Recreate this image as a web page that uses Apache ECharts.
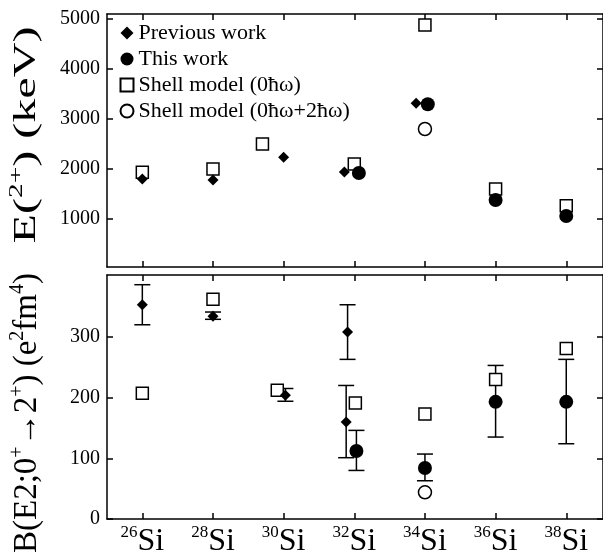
<!DOCTYPE html>
<html>
<head>
<meta charset="utf-8">
<script src="https://cdn.jsdelivr.net/npm/echarts@6/dist/echarts.min.js"></script>
<style>html,body{margin:0;padding:0;background:#fff;}#c{width:603px;height:558px;}</style>
</head>
<body>
<div id="c"></div>
<script>
// ---- data ----
const isotopes = [26, 28, 30, 32, 34, 36, 38];
const ticksE = [1000, 2000, 3000, 4000, 5000];
const ticksB = [0, 100, 200, 300];
const seriesNames = ['Previous work', 'This work', 'Shell model (0ħω)', 'Shell model (0ħω+2ħω)'];

// E(2+) in keV (x = mass number as plotted)
const prevE_A = [26, 28, 30, 31.72, 33.75];
const prevE = [1800, 1780, 2235, 1940, 3315];
const thisE_A = [32.13, 34.08, 36, 38];
const thisE = [1920, 3295, 1380, 1060];
const shell0E_A = [26, 28, 29.4, 32, 34, 36, 38];
const shell0E = [1935, 2000, 2500, 2100, 4880, 1600, 1265];
const shell02E_A = [34];
const shell02E = [2800];

// B(E2;0+ -> 2+) in e2fm4
const prevB_A = [26, 28, 30.05, 31.81, 31.77];
const prevB = [353, 334, 204, 308, 160];
const prevB_lo = [320, 329, 194, 263, 101];
const prevB_hi = [386, 341, 215, 353, 220];
const thisB_A = [32.06, 34, 36, 38];
const thisB = [112, 84, 193, 193];
const thisB_lo = [80, 63, 135, 124];
const thisB_hi = [146, 107, 253, 263];
const shell0B_A = [26, 28, 29.82, 32.03, 34, 36, 38];
const shell0B = [207, 362, 212, 191, 173, 230, 281];
const shell02B_A = [34];
const shell02B = [44];

// ---- chart ----
const FONT = 'Liberation Serif';
const zip = (a, b) => a.map((v, i) => [v, b[i]]);
const zip3 = (a, b, c) => a.map((v, i) => [v, b[i], c[i]]);

const lineStyle = { color: '#000', width: 1.5 };
function xAx(grid, pos, labels) {
  return {
    type: 'value', gridIndex: grid, position: pos, min: 25, max: 39.04,
    axisLine: { show: true, onZero: false, lineStyle },
    axisTick: { show: true, inside: true, length: 6, lineStyle, customValues: isotopes },
    splitLine: { show: false },
    axisLabel: labels ? {
      show: true, customValues: isotopes, margin: 5,
      formatter: v => '{s|' + v + '}{m|Si}',
      rich: {
        s: { fontFamily: FONT, fontSize: 17, color: '#000', verticalAlign: 'top', lineHeight: 16 },
        m: { fontFamily: FONT, fontSize: 32, color: '#000', lineHeight: 36 }
      }
    } : { show: false }
  };
}
function yAx(grid, pos, min, max, ticks, labels) {
  return {
    type: 'value', gridIndex: grid, position: pos, min, max,
    axisLine: { show: true, onZero: false, lineStyle },
    axisTick: { show: true, inside: true, length: 6, lineStyle, customValues: ticks },
    splitLine: { show: false },
    axisLabel: labels ? {
      show: true, customValues: ticks, margin: 7, fontFamily: FONT, fontSize: 20, color: '#000',
      formatter: v => String(v)
    } : { show: false }
  };
}

const diamondStyle = { symbol: 'diamond', symbolSize: 11, itemStyle: { color: '#000', opacity: 1 } };
const dotStyle = { symbol: 'circle', symbolSize: 14, itemStyle: { color: '#000', opacity: 1 } };
const squareStyle = { symbol: 'rect', symbolSize: 12, itemStyle: { color: '#fff', borderColor: '#000', borderWidth: 1.5, opacity: 1 } };
const ringStyle = { symbol: 'circle', symbolSize: 13, itemStyle: { color: '#fff', borderColor: '#000', borderWidth: 1.5, opacity: 1 } };

function scat(name, style, data, grid, z) {
  return Object.assign({ type: 'scatter', name, data, xAxisIndex: grid * 2, yAxisIndex: grid * 2, z, emphasis: { disabled: true }, animation: false }, style);
}
function errBars(name, data) {
  return {
    type: 'custom', name, xAxisIndex: 2, yAxisIndex: 2, data, z: 1, animation: false,
    encode: { x: 0, y: [1, 2] },
    renderItem(params, api) {
      const x = api.value(0);
      const lo = api.coord([x, api.value(1)]);
      const hi = api.coord([x, api.value(2)]);
      const w = 8;
      const st = { stroke: '#000', lineWidth: 1.5 };
      return {
        type: 'group', children: [
          { type: 'line', shape: { x1: hi[0], y1: hi[1], x2: lo[0], y2: lo[1] }, style: st },
          { type: 'line', shape: { x1: hi[0] - w, y1: hi[1], x2: hi[0] + w, y2: hi[1] }, style: st },
          { type: 'line', shape: { x1: lo[0] - w, y1: lo[1], x2: lo[0] + w, y2: lo[1] }, style: st }
        ]
      };
    }
  };
}

const chart = echarts.init(document.getElementById('c'), null, { renderer: 'canvas' });
chart.setOption({
  backgroundColor: '#fff',
  animation: false,
  grid: [
    { left: 107, top: 14, right: -2, height: 253 },
    { left: 107, top: 275, right: -2, height: 244 }
  ],
  xAxis: [xAx(0, 'bottom', false), xAx(0, 'top', false), xAx(1, 'bottom', true), xAx(1, 'top', false)],
  yAxis: [
    yAx(0, 'left', 40, 5100, ticksE, true), yAx(0, 'right', 40, 5100, ticksE, false),
    yAx(1, 'left', 0, 402, ticksB, true), yAx(1, 'right', 0, 402, ticksB, false)
  ],
  legend: {
    data: seriesNames, orient: 'vertical', left: 119.5, top: 21, itemGap: 2, padding: 0,
    itemWidth: 13, itemHeight: 13, selectedMode: false,
    textStyle: { fontFamily: FONT, fontSize: 22, color: '#000', lineHeight: 24 }
  },
  graphic: [
    {
      type: 'text', x: 27, y: 135, rotation: Math.PI / 2, scaleX: 1.55,
      style: {
        text: '{a|E(}{s|2+}{a|) (keV)}', align: 'center', verticalAlign: 'middle',
        rich: {
          a: { fontFamily: FONT, fontSize: 31, fill: '#000', lineHeight: 38 },
          s: { fontFamily: FONT, fontSize: 19, fill: '#000', verticalAlign: 'top', lineHeight: 19 }
        }
      }
    },
    {
      type: 'text', x: 27, y: 413, rotation: Math.PI / 2,
      style: {
        text: '{a|B(E2;0}{s|+}{a|→2}{s|+}{a|) (e}{s|2}{a|fm}{s|4}{a|)}', align: 'center', verticalAlign: 'middle',
        rich: {
          a: { fontFamily: FONT, fontSize: 33, fill: '#000', lineHeight: 38 },
          s: { fontFamily: FONT, fontSize: 20, fill: '#000', verticalAlign: 'top', lineHeight: 20 }
        }
      }
    }
  ],
  series: [
    scat(seriesNames[2], squareStyle, zip(shell0E_A, shell0E), 0, 2),
    scat(seriesNames[3], ringStyle, zip(shell02E_A, shell02E), 0, 2),
    scat(seriesNames[0], diamondStyle, zip(prevE_A, prevE), 0, 3),
    scat(seriesNames[1], dotStyle, zip(thisE_A, thisE), 0, 3),
    errBars('prevErr', zip3(prevB_A, prevB_lo, prevB_hi)),
    errBars('thisErr', zip3(thisB_A, thisB_lo, thisB_hi)),
    scat(seriesNames[2], squareStyle, zip(shell0B_A, shell0B), 1, 2),
    scat(seriesNames[3], ringStyle, zip(shell02B_A, shell02B), 1, 2),
    scat(seriesNames[0], diamondStyle, zip(prevB_A, prevB), 1, 3),
    scat(seriesNames[1], dotStyle, zip(thisB_A, thisB), 1, 3)
  ]
});
</script>
</body>
</html>
